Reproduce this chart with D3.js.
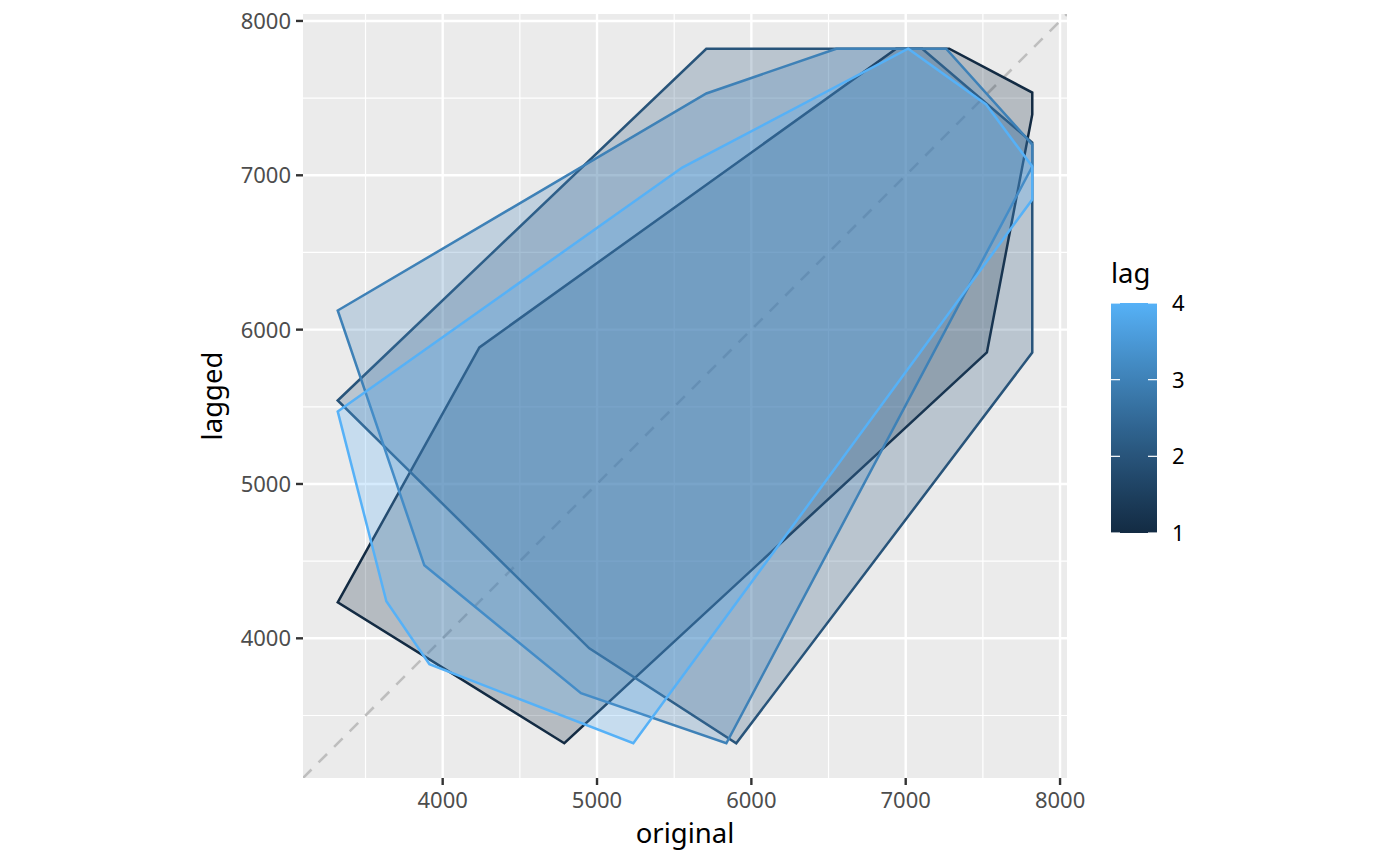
<!DOCTYPE html>
<html>
<head>
<meta charset="utf-8">
<script src="https://cdn.jsdelivr.net/npm/d3@7"></script>
<style>
  body { margin: 0; background: #fff; }
  text { font-family: "Noto Sans", "Open Sans", sans-serif; }
</style>
</head>
<body>
<div id="chart-area"></div>
<script>
// Convex hull vertices of the lag plot, one pair of arrays per lag
const lags = [1, 2, 3, 4];
const lag1Original = [3320, 4238, 6938, 7282, 7820, 7820, 7526, 4788];
const lag1Lagged = [4233, 5885, 7820, 7820, 7536, 7394, 5852, 3320];
const lag2Original = [3320, 5708, 7107, 7820, 7820, 5902, 4950];
const lag2Lagged = [5541, 7820, 7820, 7212, 5852, 3320, 3935];
const lag3Original = [3320, 5708, 6550, 7262, 7820, 7820, 5838, 4896, 3881];
const lag3Lagged = [6124, 7530, 7820, 7820, 7199, 7057, 3320, 3644, 4473];
const lag4Original = [3320, 5552, 7016, 7521, 7820, 7820, 5235, 3914, 3635];
const lag4Lagged = [5470, 7050, 7820, 7459, 7057, 6843, 3320, 3832, 4240];

const majorTicks = [4000, 5000, 6000, 7000, 8000];
const minorTicks = [3500, 4500, 5500, 6500, 7500];
const legendTicks = [1, 2, 3, 4];

const hulls = [
  { lag: 1, xs: lag1Original, ys: lag1Lagged },
  { lag: 2, xs: lag2Original, ys: lag2Lagged },
  { lag: 3, xs: lag3Original, ys: lag3Lagged },
  { lag: 4, xs: lag4Original, ys: lag4Lagged },
];

const width = 1400;
const height = 866;
const panel = { left: 303, right: 1067, top: 14, bottom: 778 };

const svg = d3
  .select("#chart-area")
  .append("svg")
  .attr("width", width)
  .attr("height", height);

// ggplot-style 5% expansion on the shared data range
const allVals = hulls.flatMap((h) => h.xs.concat(h.ys));
const lo = d3.min(allVals);
const hi = d3.max(allVals);
const pad = (hi - lo) * 0.05;

const x = d3.scaleLinear().domain([lo - pad, hi + pad]).range([panel.left, panel.right]);
const y = d3.scaleLinear().domain([lo - pad, hi + pad]).range([panel.bottom, panel.top]);

const colour = d3
  .scaleLinear()
  .domain([1, 4])
  .range(["#132B43", "#56B1F7"])
  .interpolate(d3.interpolateLab);

// Panel background and grid
svg
  .append("rect")
  .attr("x", panel.left)
  .attr("y", panel.top)
  .attr("width", panel.right - panel.left)
  .attr("height", panel.bottom - panel.top)
  .attr("fill", "#EBEBEB");

const grid = svg.append("g");
minorTicks.forEach((v) => {
  grid.append("line")
    .attr("x1", x(v)).attr("x2", x(v))
    .attr("y1", panel.top).attr("y2", panel.bottom)
    .attr("stroke", "#fff").attr("stroke-width", 1.2);
  grid.append("line")
    .attr("y1", y(v)).attr("y2", y(v))
    .attr("x1", panel.left).attr("x2", panel.right)
    .attr("stroke", "#fff").attr("stroke-width", 1.2);
});
majorTicks.forEach((v) => {
  grid.append("line")
    .attr("x1", x(v)).attr("x2", x(v))
    .attr("y1", panel.top).attr("y2", panel.bottom)
    .attr("stroke", "#fff").attr("stroke-width", 2.4);
  grid.append("line")
    .attr("y1", y(v)).attr("y2", y(v))
    .attr("x1", panel.left).attr("x2", panel.right)
    .attr("stroke", "#fff").attr("stroke-width", 2.4);
});

// Clip for things inside the panel
svg.append("clipPath").attr("id", "panel-clip")
  .append("rect")
  .attr("x", panel.left).attr("y", panel.top)
  .attr("width", panel.right - panel.left)
  .attr("height", panel.bottom - panel.top);

const plot = svg.append("g").attr("clip-path", "url(#panel-clip)");

// y = x reference line
const [d0, d1] = x.domain();
plot.append("line")
  .attr("x1", x(d0)).attr("y1", y(d0))
  .attr("x2", x(d1)).attr("y2", y(d1))
  .attr("stroke", "#BEBEBE")
  .attr("stroke-width", 2.6)
  .attr("stroke-dasharray", "12,10");

// Hull polygons, lag 1 first
plot.selectAll("polygon.hull")
  .data(hulls)
  .join("polygon")
  .attr("class", "hull")
  .attr("points", (h) => h.xs.map((v, i) => `${x(v)},${y(h.ys[i])}`).join(" "))
  .attr("fill", (h) => colour(h.lag))
  .attr("fill-opacity", 0.25)
  .attr("stroke", (h) => colour(h.lag))
  .attr("stroke-width", 2.5)
  .attr("stroke-linejoin", "miter");

// Axes
const axisG = svg.append("g");
majorTicks.forEach((v) => {
  axisG.append("line")
    .attr("x1", x(v)).attr("x2", x(v))
    .attr("y1", panel.bottom).attr("y2", panel.bottom + 7)
    .attr("stroke", "#333").attr("stroke-width", 2.4);
  axisG.append("text")
    .attr("x", x(v)).attr("y", panel.bottom + 30)
    .attr("text-anchor", "middle")
    .attr("font-size", 22)
    .attr("fill", "#4D4D4D")
    .text(v);
  axisG.append("line")
    .attr("y1", y(v)).attr("y2", y(v))
    .attr("x1", panel.left - 7).attr("x2", panel.left)
    .attr("stroke", "#333").attr("stroke-width", 2.4);
  axisG.append("text")
    .attr("x", panel.left - 12).attr("y", y(v) + 8)
    .attr("text-anchor", "end")
    .attr("font-size", 22)
    .attr("fill", "#4D4D4D")
    .text(v);
});

svg.append("text")
  .attr("x", (panel.left + panel.right) / 2)
  .attr("y", 843)
  .attr("text-anchor", "middle")
  .attr("font-size", 27.5)
  .attr("fill", "#000")
  .text("original");

svg.append("text")
  .attr("transform", `translate(222,${(panel.top + panel.bottom) / 2}) rotate(-90)`)
  .attr("text-anchor", "middle")
  .attr("font-size", 27.5)
  .attr("fill", "#000")
  .text("lagged");

// Colourbar legend
const bar = { left: 1111, width: 46, top: 303, bottom: 533 };
const lscale = d3.scaleLinear().domain([1, 4]).range([bar.bottom, bar.top]);

const grad = svg.append("defs").append("linearGradient")
  .attr("id", "lag-grad")
  .attr("x1", 0).attr("y1", 1).attr("x2", 0).attr("y2", 0);
d3.range(0, 1.0001, 0.05).forEach((t) => {
  grad.append("stop")
    .attr("offset", t)
    .attr("stop-color", colour(1 + 3 * t));
});

svg.append("text")
  .attr("x", bar.left).attr("y", 283)
  .attr("font-size", 27.5)
  .attr("fill", "#000")
  .text("lag");

svg.append("rect")
  .attr("x", bar.left).attr("y", bar.top)
  .attr("width", bar.width).attr("height", bar.bottom - bar.top)
  .attr("fill", "url(#lag-grad)");

legendTicks.forEach((v) => {
  const ty = lscale(v);
  svg.append("line")
    .attr("x1", bar.left).attr("x2", bar.left + 9)
    .attr("y1", ty).attr("y2", ty)
    .attr("stroke", "#fff").attr("stroke-width", 1.2);
  svg.append("line")
    .attr("x1", bar.left + bar.width - 9).attr("x2", bar.left + bar.width)
    .attr("y1", ty).attr("y2", ty)
    .attr("stroke", "#fff").attr("stroke-width", 1.2);
  svg.append("text")
    .attr("x", bar.left + bar.width + 15)
    .attr("y", ty + 8)
    .attr("font-size", 22)
    .attr("fill", "#000")
    .text(v);
});
</script>
</body>
</html>
